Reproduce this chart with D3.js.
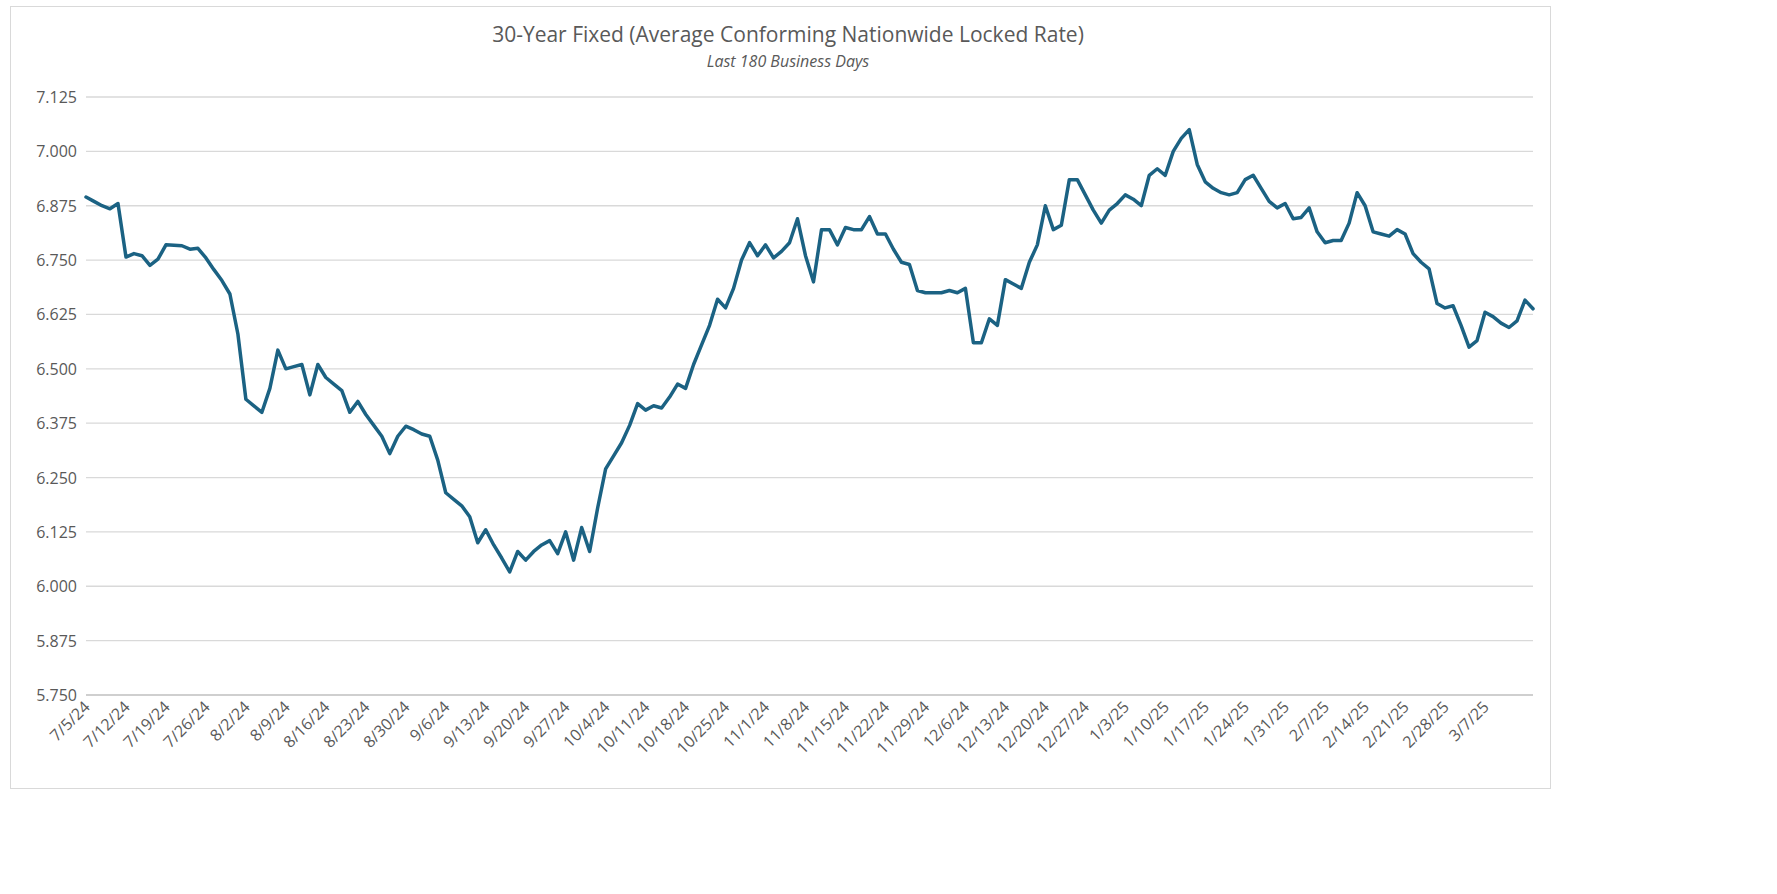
<!DOCTYPE html>
<html>
<head>
<meta charset="utf-8">
<script src="https://cdn.jsdelivr.net/npm/d3@7"></script>
<style>
  body { margin: 0; background: #fff; }
  text { font-family: "Open Sans", "Liberation Sans", sans-serif; }
</style>
</head>
<body>
<svg id="chart" width="1777" height="894"></svg>
<script>
// daily rates, one per business day
const rates = [6.895,6.885,6.875,6.868,6.88,6.757,6.765,6.76,6.738,6.752,
  6.785,6.784,6.783,6.775,6.777,6.755,6.728,6.703,6.672,6.58,
  6.43,6.415,6.40,6.455,6.543,6.50,6.505,6.51,6.44,6.51,
  6.48,6.465,6.45,6.40,6.425,6.395,6.37,6.345,6.305,6.345,
  6.368,6.36,6.35,6.345,6.29,6.215,6.20,6.185,6.16,6.10,
  6.13,6.095,6.065,6.033,6.08,6.06,6.08,6.095,6.105,6.075,
  6.125,6.06,6.135,6.08,6.18,6.27,6.30,6.33,6.37,6.42,
  6.405,6.415,6.41,6.435,6.465,6.455,6.51,6.555,6.60,6.66,
  6.64,6.685,6.75,6.79,6.76,6.785,6.755,6.77,6.79,6.845,
  6.76,6.70,6.82,6.82,6.785,6.825,6.82,6.82,6.85,6.81,
  6.81,6.775,6.745,6.74,6.68,6.675,6.675,6.675,6.68,6.675,
  6.685,6.56,6.56,6.615,6.60,6.705,6.695,6.685,6.745,6.785,
  6.875,6.82,6.83,6.935,6.935,6.90,6.865,6.835,6.865,6.88,
  6.90,6.89,6.875,6.945,6.96,6.945,7.00,7.03,7.05,6.97,
  6.93,6.915,6.905,6.90,6.905,6.935,6.945,6.915,6.885,6.87,
  6.88,6.845,6.848,6.87,6.815,6.79,6.795,6.795,6.835,6.905,
  6.875,6.815,6.81,6.805,6.82,6.81,6.765,6.745,6.73,6.65,
  6.64,6.645,6.60,6.55,6.565,6.63,6.62,6.605,6.595,6.61,
  6.658,6.638];

// weekly (Friday) labels, every 5th business day
const weekLabels = ["7/5/24","7/12/24","7/19/24","7/26/24","8/2/24","8/9/24","8/16/24","8/23/24",
  "8/30/24","9/6/24","9/13/24","9/20/24","9/27/24","10/4/24","10/11/24","10/18/24","10/25/24",
  "11/1/24","11/8/24","11/15/24","11/22/24","11/29/24","12/6/24","12/13/24","12/20/24","12/27/24",
  "1/3/25","1/10/25","1/17/25","1/24/25","1/31/25","2/7/25","2/14/25","2/21/25","2/28/25","3/7/25"];

const yTicks = [5.75,5.875,6.0,6.125,6.25,6.375,6.5,6.625,6.75,6.875,7.0,7.125];

const svg = d3.select("#chart");

// chart frame
svg.append("rect").attr("x", 10.5).attr("y", 6.5).attr("width", 1540).attr("height", 782)
  .attr("fill", "#fff").attr("stroke", "#d9d9d9");

const x = d3.scaleLinear().domain([0, rates.length - 1]).range([86, 1533]);
const y = d3.scaleLinear().domain([5.75, 7.125]).range([695, 97]);

// gridlines
svg.append("g").selectAll("line").data(yTicks).join("line")
  .attr("x1", 86).attr("x2", 1533)
  .attr("y1", d => y(d)).attr("y2", d => y(d))
  .attr("stroke", d => d === 5.75 ? "#bfbfbf" : "#d9d9d9").attr("stroke-width", 1.3);

// y labels
svg.append("g").selectAll("text").data(yTicks).join("text")
  .attr("x", 77).attr("y", d => y(d) + 6)
  .attr("text-anchor", "end").attr("font-size", 16).attr("fill", "#595959")
  .text(d => d3.format(".3f")(d));

// x labels, rotated
svg.append("g").selectAll("text").data(weekLabels).join("text")
  .attr("transform", (d, i) => `translate(${x(i * 5) + 5},${708}) rotate(-45)`)
  .attr("text-anchor", "end").attr("font-size", 16).attr("fill", "#595959")
  .text(d => d);

// line
const line = d3.line().x((d, i) => x(i)).y(d => y(d));
svg.append("path").datum(rates)
  .attr("d", line).attr("fill", "none")
  .attr("stroke", "#1b6283").attr("stroke-width", 3.5)
  .attr("stroke-linejoin", "round").attr("stroke-linecap", "round");

// titles
svg.append("text").attr("x", 788).attr("y", 42).attr("text-anchor", "middle")
  .attr("font-size", 21).attr("fill", "#595959")
  .text("30-Year Fixed (Average Conforming Nationwide Locked Rate)");
svg.append("text").attr("x", 788).attr("y", 67).attr("text-anchor", "middle")
  .attr("font-size", 16).attr("font-style", "italic").attr("fill", "#595959")
  .text("Last 180 Business Days");
</script>
</body>
</html>
